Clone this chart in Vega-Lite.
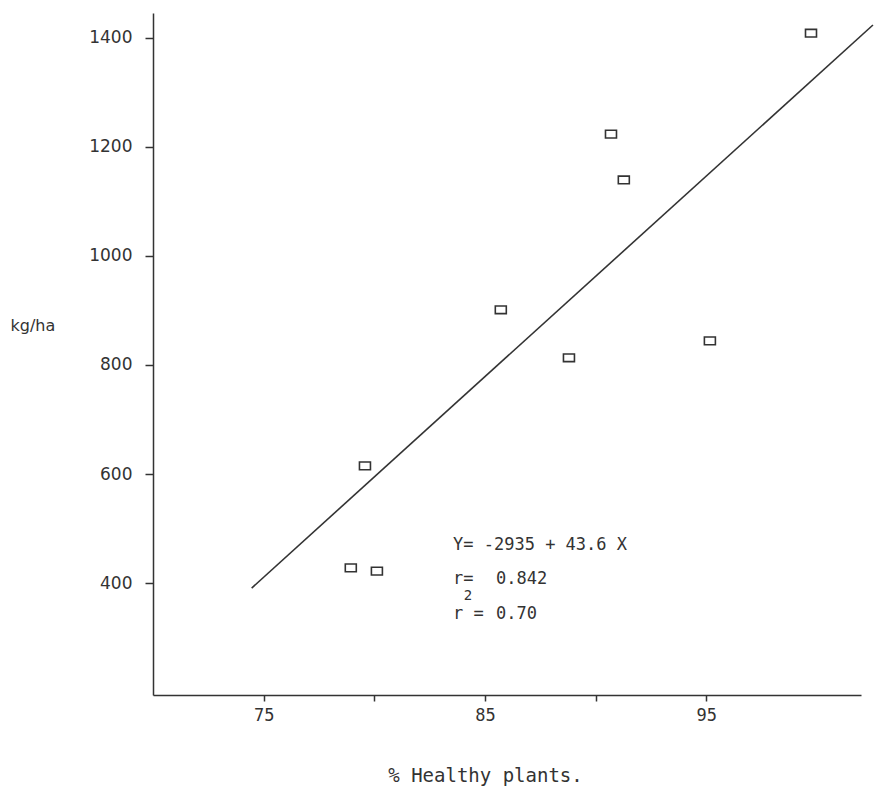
{
  "$schema": "https://vega.github.io/schema/vega-lite/v6.json",
  "width": 708,
  "height": 682,
  "autosize": "none",
  "padding": {"left": 153, "top": 13, "right": 13, "bottom": 98},
  "background": "white",
  "config": {
    "view": {"stroke": null},
    "axis": {"grid": false, "domainColor": "#333", "tickColor": "#333", "domainWidth": 1.5, "tickWidth": 1.5, "labelColor": "#333", "titleColor": "#333", "titleFontWeight": "normal"}
  },
  "datasets": {
    "pts": [
      {"healthy": 99.74, "yield": 1408},
      {"healthy": 90.70, "yield": 1223},
      {"healthy": 91.28, "yield": 1139},
      {"healthy": 85.72, "yield": 901},
      {"healthy": 88.80, "yield": 813},
      {"healthy": 95.17, "yield": 844},
      {"healthy": 79.58, "yield": 615},
      {"healthy": 78.94, "yield": 428},
      {"healthy": 80.12, "yield": 422}
    ],
    "fit": [
      {"healthy": 74.46, "yield": 391},
      {"healthy": 102.54, "yield": 1423}
    ],
    "notes": [
      {"healthy": 83.56, "yield": 470, "label": "Y= -2935 + 43.6 X"},
      {"healthy": 83.56, "yield": 407, "label": "r="},
      {"healthy": 85.50, "yield": 407, "label": "0.842"},
      {"healthy": 83.56, "yield": 343, "label": "r\u00a0="},
      {"healthy": 85.50, "yield": 343, "label": "0.70"}
    ],
    "sup": [
      {"healthy": 84.24, "yield": 376, "label": "2"}
    ]
  },
  "layer": [
    {
      "data": {"name": "fit"},
      "mark": {"type": "line", "color": "#333", "strokeWidth": 1.6},
      "encoding": {
        "x": {"field": "healthy", "type": "quantitative",
          "scale": {"domain": [70, 102], "nice": false, "zero": false},
          "axis": {"values": [75, 80, 85, 90, 95], "labelExpr": "datum.value == 80 || datum.value == 90 ? '' : datum.label", "tickSize": 6, "labelPadding": 6, "labelFont": "DejaVu Sans Mono", "labelFontSize": 17,
            "title": "% Healthy plants.", "titleFont": "DejaVu Sans Mono", "titleFontSize": 19, "titleX": 332, "titleY": 80, "titleBaseline": "middle", "titleAlign": "center"}},
        "y": {"field": "yield", "type": "quantitative",
          "scale": {"domain": [195, 1445], "nice": false, "zero": false},
          "axis": {"values": [400, 600, 800, 1000, 1200, 1400], "format": "d", "tickSize": 8, "labelPadding": 13, "labelFont": "DejaVu Sans", "labelFontSize": 17,
            "title": "kg/ha", "titleAngle": 0, "titleFont": "DejaVu Sans", "titleFontSize": 16, "titleX": -143, "titleY": 312, "titleAlign": "left", "titleBaseline": "middle"}}
      }
    },
    {
      "data": {"name": "pts"},
      "mark": {"type": "point", "shape": "M-1,-0.7H1V0.7H-1Z", "size": 121, "filled": false, "stroke": "#333", "strokeWidth": 1.6, "opacity": 1},
      "encoding": {
        "x": {"field": "healthy", "type": "quantitative"},
        "y": {"field": "yield", "type": "quantitative"}
      }
    },
    {
      "data": {"name": "notes"},
      "mark": {"type": "text", "align": "left", "baseline": "middle", "font": "DejaVu Sans Mono", "fontSize": 17, "color": "#333"},
      "encoding": {
        "x": {"field": "healthy", "type": "quantitative"},
        "y": {"field": "yield", "type": "quantitative"},
        "text": {"field": "label"}
      }
    },
    {
      "data": {"name": "sup"},
      "mark": {"type": "text", "align": "center", "baseline": "middle", "font": "DejaVu Sans Mono", "fontSize": 14, "color": "#333"},
      "encoding": {
        "x": {"field": "healthy", "type": "quantitative"},
        "y": {"field": "yield", "type": "quantitative"},
        "text": {"field": "label"}
      }
    }
  ]
}
